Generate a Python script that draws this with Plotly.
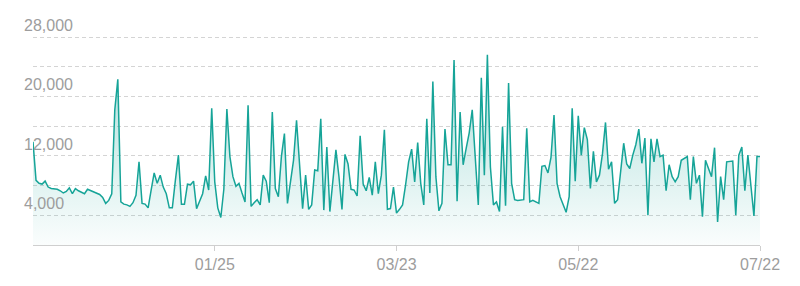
import plotly.graph_objects as go

# Daily values
values = [
    13900, 8700, 8300, 8200, 8600, 7800, 7600, 7600, 7500, 7300,
    7000, 7200, 7700, 6900, 7600, 7300, 7100, 6900, 7500, 7300,
    7200, 6900, 6800, 6400, 5600, 6000, 6900, 18200, 22300, 5800,
    5500, 5400, 5200, 5700, 6700, 11200, 5600, 5500, 5000, 7400,
    9700, 8300, 9400, 7800, 6900, 5000, 5000, 8700, 12100, 5500,
    5500, 8200, 8100, 8600, 4900, 5900, 6900, 9300, 7400, 18400,
    8500, 5000, 3700, 7500, 18300, 11900, 9200, 7900, 8300, 7000,
    5800, 18800, 5200, 5700, 6100, 5400, 9400, 8600, 5700, 17900,
    7600, 6500, 11900, 15000, 5600, 8500, 11400, 16800, 11200, 4900,
    9400, 4800, 5400, 10100, 10000, 17000, 4700, 13200, 4500, 8600,
    12800, 9200, 4800, 12200, 10900, 7500, 7400, 6600, 14700, 8200,
    7300, 9100, 6700, 11200, 6900, 9400, 15500, 4800, 4900, 7800,
    4300, 4800, 5400, 8100, 11200, 12900, 8500, 13800, 8300, 5400,
    17000, 7000, 22000, 9200, 4600, 5600, 15600, 10800, 10800, 24900,
    5900, 17900, 10800, 13000, 15100, 18200, 11900, 5400, 22500, 9400,
    25600, 10500, 5400, 5800, 4500, 15900, 5300, 21800, 8300, 6100,
    6000, 6000, 6100, 15700, 5800, 6000, 5800, 5600, 10600, 10700,
    9700, 11800, 17500, 8300, 6500, 5400, 4400, 6500, 18400, 8600,
    17400, 12100, 15800, 14200, 7600, 12600, 8500, 9400, 12300, 16500,
    10200, 11200, 5600, 6100, 9900, 13700, 10900, 10300, 12100, 13500,
    15600, 11000, 14400, 4000, 14300, 11200, 14300, 11900, 12100, 7300,
    10800, 9200, 8500, 9200, 11400, 11700, 11900, 6100, 11900, 8300,
    9400, 3800, 11400, 10300, 9200, 13100, 3100, 9200, 6100, 11200,
    11250, 11300, 4000, 12100, 13200, 7300, 12100, 8100, 3900, 11900,
    11900,
]
day_index = list(range(len(values)))

x_tick_index = [60, 120, 180, 240]
x_tick_labels = ["01/25", "03/23", "05/22", "07/22"]

y_grid_values = [4000, 8000, 12000, 16000, 20000, 24000, 28000]
y_label_values = [4000, 12000, 20000, 28000]
y_label_texts = ["4,000", "12,000", "20,000", "28,000"]

LINE = "#16a498"
FONT = "Liberation Sans, Arial, sans-serif"

fig = go.Figure()
fig.add_trace(go.Scatter(
    x=day_index, y=values, mode="lines",
    line=dict(color=LINE, width=1.5),
    fill="tozeroy",
    fillgradient=dict(
        type="vertical",
        start=0, stop=26000,
        colorscale=[[0, "rgba(22,164,152,0.02)"], [1, "rgba(22,164,152,0.36)"]],
    ),
    hoverinfo="skip",
))

for v, t in zip(y_label_values, y_label_texts):
    fig.add_annotation(
        xref="paper", yref="y", x=0, y=v, text=t, showarrow=False,
        xanchor="left", yanchor="bottom", xshift=-11, yshift=1,
        font=dict(family=FONT, size=16, color="#9d9d9d"),
    )

fig.update_layout(
    width=800, height=286,
    margin=dict(l=33, r=40, t=35, b=41),
    paper_bgcolor="white", plot_bgcolor="white",
    showlegend=False,
    font=dict(family=FONT, size=16, color="#9d9d9d"),
    xaxis=dict(
        range=[0, len(values) - 1],
        tickvals=x_tick_index, ticktext=x_tick_labels,
        showgrid=False, zeroline=False,
        showline=True, linecolor="#cfcfcf", linewidth=1,
        ticks="outside", ticklen=5, tickcolor="#cfcfcf",
        tickfont=dict(family=FONT, size=16, color="#9d9d9d"),
    ),
    yaxis=dict(
        range=[0, 28270],
        tickvals=y_grid_values, showticklabels=False,
        showgrid=True, gridcolor="#d4d4d4", griddash="4px,3px", gridwidth=1,
        zeroline=False, showline=False, ticks="",
    ),
)

fig.write_html("out.html")
